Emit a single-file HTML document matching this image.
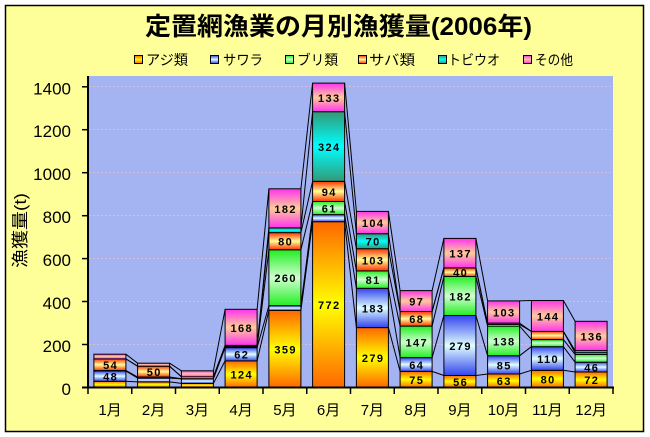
<!DOCTYPE html>
<html><head><meta charset="utf-8"><style>
html,body{margin:0;padding:0;background:#fff;}
svg{display:block;}
.lbl{font-family:"Liberation Sans",sans-serif;font-weight:bold;font-size:11px;letter-spacing:1.4px;fill:#000;text-anchor:middle;}
.yt{font-family:"Liberation Sans",sans-serif;font-size:17px;fill:#000;text-anchor:end;}
.xt{font-family:"Liberation Sans","Noto Sans CJK JP",sans-serif;font-size:15px;fill:#000;text-anchor:middle;}
.lg{font-family:"Liberation Sans","Noto Sans CJK JP",sans-serif;font-size:14px;fill:#000;}
</style></head><body>
<svg width="650" height="437" viewBox="0 0 650 437" xmlns="http://www.w3.org/2000/svg">
<defs>
<linearGradient id="gA" x1="0" y1="0" x2="0" y2="1"><stop offset="0" stop-color="#FF6600"/><stop offset="0.5" stop-color="#FFFF00"/><stop offset="1" stop-color="#FF6600"/></linearGradient>
<linearGradient id="gS" x1="0" y1="0" x2="0" y2="1"><stop offset="0" stop-color="#3344EE"/><stop offset="0.5" stop-color="#E0FFFF"/><stop offset="1" stop-color="#3344EE"/></linearGradient>
<linearGradient id="gB" x1="0" y1="0" x2="0" y2="1"><stop offset="0" stop-color="#22EE22"/><stop offset="0.5" stop-color="#D0FFD0"/><stop offset="1" stop-color="#22EE22"/></linearGradient>
<linearGradient id="gM" x1="0" y1="0" x2="0" y2="1"><stop offset="0" stop-color="#FF3300"/><stop offset="0.5" stop-color="#FFFF99"/><stop offset="1" stop-color="#FF3300"/></linearGradient>
<linearGradient id="gT" x1="0" y1="0" x2="0" y2="1"><stop offset="0" stop-color="#339977"/><stop offset="0.5" stop-color="#00FFFF"/><stop offset="1" stop-color="#339977"/></linearGradient>
<linearGradient id="gO" x1="0" y1="0" x2="0" y2="1"><stop offset="0" stop-color="#FF33EE"/><stop offset="0.5" stop-color="#FFCC99"/><stop offset="1" stop-color="#FF33EE"/></linearGradient>
</defs>

<rect x="5.5" y="5.5" width="638" height="426" fill="#FFFF99" stroke="#000" stroke-width="1.5"/>

<text x="145" y="35" font-family="'Liberation Sans','Noto Sans CJK JP',sans-serif" font-weight="bold" font-size="25" textLength="387" lengthAdjust="spacingAndGlyphs">定置網漁業の月別漁獲量(2006年)</text>

<g stroke="#000" stroke-width="1">
<rect x="134.5" y="55.5" width="8" height="8" fill="url(#gA)"/>
<rect x="210.5" y="55.5" width="8" height="8" fill="url(#gS)"/>
<rect x="285.5" y="55.5" width="8" height="8" fill="url(#gB)"/>
<rect x="358.5" y="55.5" width="8" height="8" fill="url(#gM)"/>
<rect x="438.5" y="55.5" width="8" height="8" fill="url(#gT)"/>
<rect x="523.5" y="55.5" width="8" height="8" fill="url(#gO)"/>
</g>
<text class="lg" x="146" y="65" textLength="42" lengthAdjust="spacingAndGlyphs">アジ類</text>
<text class="lg" x="223" y="65" textLength="40" lengthAdjust="spacingAndGlyphs">サワラ</text>
<text class="lg" x="297" y="65" textLength="41" lengthAdjust="spacingAndGlyphs">ブリ類</text>
<text class="lg" x="369" y="65" textLength="46" lengthAdjust="spacingAndGlyphs">サバ類</text>
<text class="lg" x="448" y="65" textLength="52" lengthAdjust="spacingAndGlyphs">トビウオ</text>
<text class="lg" x="535" y="65" textLength="38" lengthAdjust="spacingAndGlyphs">その他</text>

<rect x="88" y="76" width="525" height="311.5" fill="#A4B4F2"/>
<g stroke="#D8BCD8" stroke-width="1" stroke-dasharray="2 2">
<line x1="89" y1="344.5" x2="613" y2="344.5"/>
<line x1="89" y1="301.5" x2="613" y2="301.5"/>
<line x1="89" y1="258.5" x2="613" y2="258.5"/>
<line x1="89" y1="215.5" x2="613" y2="215.5"/>
<line x1="89" y1="172.5" x2="613" y2="172.5"/>
<line x1="89" y1="129.5" x2="613" y2="129.5"/>
<line x1="89" y1="86.5" x2="613" y2="86.5"/>
</g>

<g stroke="#000" stroke-width="1">
<rect x="93.9" y="381.3" width="32" height="6.2" fill="url(#gA)"/>
<rect x="93.9" y="371.0" width="32" height="10.3" fill="url(#gS)"/>
<rect x="93.9" y="370.5" width="32" height="0.5" fill="url(#gB)"/>
<rect x="93.9" y="358.9" width="32" height="11.6" fill="url(#gM)"/>
<rect x="93.9" y="354.2" width="32" height="4.7" fill="url(#gO)"/>
<rect x="137.6" y="381.9" width="32" height="5.6" fill="url(#gA)"/>
<rect x="137.6" y="378.1" width="32" height="3.8" fill="url(#gS)"/>
<rect x="137.6" y="377.0" width="32" height="1.1" fill="url(#gB)"/>
<rect x="137.6" y="366.2" width="32" height="10.8" fill="url(#gM)"/>
<rect x="137.6" y="363.2" width="32" height="3.0" fill="url(#gO)"/>
<rect x="181.4" y="383.4" width="32" height="4.1" fill="url(#gA)"/>
<rect x="181.4" y="378.7" width="32" height="4.7" fill="url(#gS)"/>
<rect x="181.4" y="376.8" width="32" height="1.9" fill="url(#gM)"/>
<rect x="181.4" y="370.8" width="32" height="6.0" fill="url(#gO)"/>
<rect x="225.1" y="360.9" width="32" height="26.6" fill="url(#gA)"/>
<rect x="225.1" y="347.6" width="32" height="13.3" fill="url(#gS)"/>
<rect x="225.1" y="346.9" width="32" height="0.7" fill="url(#gB)"/>
<rect x="225.1" y="346.3" width="32" height="0.6" fill="url(#gM)"/>
<rect x="225.1" y="345.4" width="32" height="0.9" fill="url(#gT)"/>
<rect x="225.1" y="309.3" width="32" height="36.1" fill="url(#gO)"/>
<rect x="268.9" y="310.4" width="32" height="77.1" fill="url(#gA)"/>
<rect x="268.9" y="305.7" width="32" height="4.7" fill="url(#gS)"/>
<rect x="268.9" y="249.8" width="32" height="55.9" fill="url(#gB)"/>
<rect x="268.9" y="232.6" width="32" height="17.2" fill="url(#gM)"/>
<rect x="268.9" y="227.9" width="32" height="4.7" fill="url(#gT)"/>
<rect x="268.9" y="188.8" width="32" height="39.1" fill="url(#gO)"/>
<rect x="312.6" y="221.7" width="32" height="165.8" fill="url(#gA)"/>
<rect x="312.6" y="214.6" width="32" height="7.1" fill="url(#gS)"/>
<rect x="312.6" y="201.5" width="32" height="13.1" fill="url(#gB)"/>
<rect x="312.6" y="181.3" width="32" height="20.2" fill="url(#gM)"/>
<rect x="312.6" y="111.7" width="32" height="69.6" fill="url(#gT)"/>
<rect x="312.6" y="83.1" width="32" height="28.6" fill="url(#gO)"/>
<rect x="356.4" y="327.6" width="32" height="59.9" fill="url(#gA)"/>
<rect x="356.4" y="288.3" width="32" height="39.3" fill="url(#gS)"/>
<rect x="356.4" y="270.9" width="32" height="17.4" fill="url(#gB)"/>
<rect x="356.4" y="248.7" width="32" height="22.2" fill="url(#gM)"/>
<rect x="356.4" y="233.7" width="32" height="15.0" fill="url(#gT)"/>
<rect x="356.4" y="211.4" width="32" height="22.3" fill="url(#gO)"/>
<rect x="400.1" y="371.4" width="32" height="16.1" fill="url(#gA)"/>
<rect x="400.1" y="357.6" width="32" height="13.8" fill="url(#gS)"/>
<rect x="400.1" y="326.1" width="32" height="31.5" fill="url(#gB)"/>
<rect x="400.1" y="311.5" width="32" height="14.6" fill="url(#gM)"/>
<rect x="400.1" y="290.6" width="32" height="20.9" fill="url(#gO)"/>
<rect x="443.9" y="375.5" width="32" height="12.0" fill="url(#gA)"/>
<rect x="443.9" y="315.5" width="32" height="60.0" fill="url(#gS)"/>
<rect x="443.9" y="276.5" width="32" height="39.0" fill="url(#gB)"/>
<rect x="443.9" y="267.9" width="32" height="8.6" fill="url(#gM)"/>
<rect x="443.9" y="238.4" width="32" height="29.5" fill="url(#gO)"/>
<rect x="487.6" y="374.0" width="32" height="13.5" fill="url(#gA)"/>
<rect x="487.6" y="355.7" width="32" height="18.3" fill="url(#gS)"/>
<rect x="487.6" y="326.1" width="32" height="29.6" fill="url(#gB)"/>
<rect x="487.6" y="324.4" width="32" height="1.7" fill="url(#gM)"/>
<rect x="487.6" y="323.1" width="32" height="1.3" fill="url(#gT)"/>
<rect x="487.6" y="300.9" width="32" height="22.2" fill="url(#gO)"/>
<rect x="531.4" y="370.3" width="32" height="17.2" fill="url(#gA)"/>
<rect x="531.4" y="346.7" width="32" height="23.6" fill="url(#gS)"/>
<rect x="531.4" y="339.6" width="32" height="7.1" fill="url(#gB)"/>
<rect x="531.4" y="331.4" width="32" height="8.2" fill="url(#gM)"/>
<rect x="531.4" y="300.5" width="32" height="30.9" fill="url(#gO)"/>
<rect x="575.1" y="372.0" width="32" height="15.5" fill="url(#gA)"/>
<rect x="575.1" y="362.2" width="32" height="9.8" fill="url(#gS)"/>
<rect x="575.1" y="354.4" width="32" height="7.8" fill="url(#gB)"/>
<rect x="575.1" y="352.7" width="32" height="1.7" fill="url(#gM)"/>
<rect x="575.1" y="350.6" width="32" height="2.1" fill="url(#gT)"/>
<rect x="575.1" y="321.3" width="32" height="29.3" fill="url(#gO)"/>
</g>

<g stroke="#000" stroke-width="1" fill="none">
<path d="M125.9 381.3L137.6 381.9M169.6 381.9L181.4 383.4M213.4 383.4L225.1 360.9M257.1 360.9L268.9 310.4M300.9 310.4L312.6 221.7M344.6 221.7L356.4 327.6M388.4 327.6L400.1 371.4M432.1 371.4L443.9 375.5M475.9 375.5L487.6 374.0M519.6 374.0L531.4 370.3M563.4 370.3L575.1 372.0"/>
<path d="M125.9 371L137.6 378.1M169.6 378.1L181.4 378.7M213.4 378.7L225.1 347.6M257.1 347.6L268.9 305.7M300.9 305.7L312.6 214.6M344.6 214.6L356.4 288.3M388.4 288.3L400.1 357.6M432.1 357.6L443.9 315.5M475.9 315.5L487.6 355.7M519.6 355.7L531.4 346.7M563.4 346.7L575.1 362.2"/>
<path d="M125.9 370.5L137.6 377M169.6 377L181.4 378.7M213.4 378.7L225.1 346.9M257.1 346.9L268.9 249.8M300.9 249.8L312.6 201.5M344.6 201.5L356.4 270.9M388.4 270.9L400.1 326.1M432.1 326.1L443.9 276.5M475.9 276.5L487.6 326.1M519.6 326.1L531.4 339.6M563.4 339.6L575.1 354.4"/>
<path d="M125.9 358.9L137.6 366.2M169.6 366.2L181.4 376.8M213.4 376.8L225.1 346.3M257.1 346.3L268.9 232.6M300.9 232.6L312.6 181.3M344.6 181.3L356.4 248.7M388.4 248.7L400.1 311.5M432.1 311.5L443.9 267.9M475.9 267.9L487.6 324.4M519.6 324.4L531.4 331.4M563.4 331.4L575.1 352.7"/>
<path d="M125.9 358.9L137.6 366.2M169.6 366.2L181.4 376.8M213.4 376.8L225.1 345.4M257.1 345.4L268.9 227.9M300.9 227.9L312.6 111.7M344.6 111.7L356.4 233.7M388.4 233.7L400.1 311.5M432.1 311.5L443.9 267.9M475.9 267.9L487.6 323.1M519.6 323.1L531.4 331.4M563.4 331.4L575.1 350.6"/>
<path d="M125.9 354.2L137.6 363.2M169.6 363.2L181.4 370.8M213.4 370.8L225.1 309.3M257.1 309.3L268.9 188.8M300.9 188.8L312.6 83.1M344.6 83.1L356.4 211.4M388.4 211.4L400.1 290.6M432.1 290.6L443.9 238.4M475.9 238.4L487.6 300.9M519.6 300.9L531.4 300.5M563.4 300.5L575.1 321.3"/>
</g>

<g class="lbl">
<text x="110.6" y="380.5">48</text>
<text x="110.6" y="369.2">54</text>
<text x="154.3" y="376">50</text>
<text x="241.8" y="378.6">124</text>
<text x="241.8" y="358.7">62</text>
<text x="241.8" y="331.8">168</text>
<text x="285.6" y="353.4">359</text>
<text x="285.6" y="282.2">260</text>
<text x="285.6" y="245.6">80</text>
<text x="285.6" y="212.8">182</text>
<text x="329.3" y="309">772</text>
<text x="329.3" y="212.5">61</text>
<text x="329.3" y="195.8">94</text>
<text x="329.3" y="151">324</text>
<text x="329.3" y="101.9">133</text>
<text x="373.1" y="362">279</text>
<text x="373.1" y="312.4">183</text>
<text x="373.1" y="284">81</text>
<text x="373.1" y="264.3">103</text>
<text x="373.1" y="245.7">70</text>
<text x="373.1" y="227">104</text>
<text x="416.8" y="383.9">75</text>
<text x="416.8" y="369">64</text>
<text x="416.8" y="346.3">147</text>
<text x="416.8" y="323.2">68</text>
<text x="416.8" y="305.5">97</text>
<text x="460.6" y="386">56</text>
<text x="460.6" y="350">279</text>
<text x="460.6" y="300.5">182</text>
<text x="460.6" y="276.6">40</text>
<text x="460.6" y="257.6">137</text>
<text x="504.3" y="385.2">63</text>
<text x="504.3" y="369.3">85</text>
<text x="504.3" y="345.4">138</text>
<text x="504.3" y="316.5">103</text>
<text x="548.1" y="383.4">80</text>
<text x="548.1" y="363">110</text>
<text x="548.1" y="320.5">144</text>
<text x="591.8" y="384.2">72</text>
<text x="591.8" y="371.5">46</text>
<text x="591.8" y="340.4">136</text>
</g>

<g stroke="#000" stroke-width="2">
<line x1="88" y1="76" x2="88" y2="388.5"/>
<line x1="82" y1="387.5" x2="614" y2="387.5"/>
</g>
<g stroke="#000" stroke-width="1.5">
<line x1="82" y1="344.5" x2="88" y2="344.5"/>
<line x1="82" y1="301.5" x2="88" y2="301.5"/>
<line x1="82" y1="258.6" x2="88" y2="258.6"/>
<line x1="82" y1="215.7" x2="88" y2="215.7"/>
<line x1="82" y1="172.7" x2="88" y2="172.7"/>
<line x1="82" y1="129.7" x2="88" y2="129.7"/>
<line x1="82" y1="86.8" x2="88" y2="86.8"/>
<line x1="88" y1="387" x2="88" y2="394"/>
<line x1="131.75" y1="387" x2="131.75" y2="394"/>
<line x1="175.5" y1="387" x2="175.5" y2="394"/>
<line x1="219.25" y1="387" x2="219.25" y2="394"/>
<line x1="263" y1="387" x2="263" y2="394"/>
<line x1="306.75" y1="387" x2="306.75" y2="394"/>
<line x1="350.5" y1="387" x2="350.5" y2="394"/>
<line x1="394.25" y1="387" x2="394.25" y2="394"/>
<line x1="438" y1="387" x2="438" y2="394"/>
<line x1="481.75" y1="387" x2="481.75" y2="394"/>
<line x1="525.5" y1="387" x2="525.5" y2="394"/>
<line x1="569.25" y1="387" x2="569.25" y2="394"/>
<line x1="613" y1="387" x2="613" y2="394"/>
</g>

<text class="yt" x="71" y="395">0</text>
<text class="yt" x="71" y="352">200</text>
<text class="yt" x="71" y="309">400</text>
<text class="yt" x="71" y="266">600</text>
<text class="yt" x="71" y="223">800</text>
<text class="yt" x="71" y="180">1000</text>
<text class="yt" x="71" y="137">1200</text>
<text class="yt" x="71" y="94.5">1400</text>

<text transform="translate(26,230.5) rotate(-90)" text-anchor="middle" font-family="'Liberation Sans','Noto Sans CJK JP',sans-serif" font-size="17" textLength="75" lengthAdjust="spacingAndGlyphs">漁獲量(t)</text>

<text class="xt" x="110" y="415">1月</text>
<text class="xt" x="153.6" y="415">2月</text>
<text class="xt" x="197.4" y="415">3月</text>
<text class="xt" x="241.1" y="415">4月</text>
<text class="xt" x="284.9" y="415">5月</text>
<text class="xt" x="328.6" y="415">6月</text>
<text class="xt" x="372.4" y="415">7月</text>
<text class="xt" x="416.1" y="415">8月</text>
<text class="xt" x="459.9" y="415">9月</text>
<text class="xt" x="503.6" y="415">10月</text>
<text class="xt" x="547.4" y="415">11月</text>
<text class="xt" x="591.1" y="415">12月</text>
</svg>
</body></html>
